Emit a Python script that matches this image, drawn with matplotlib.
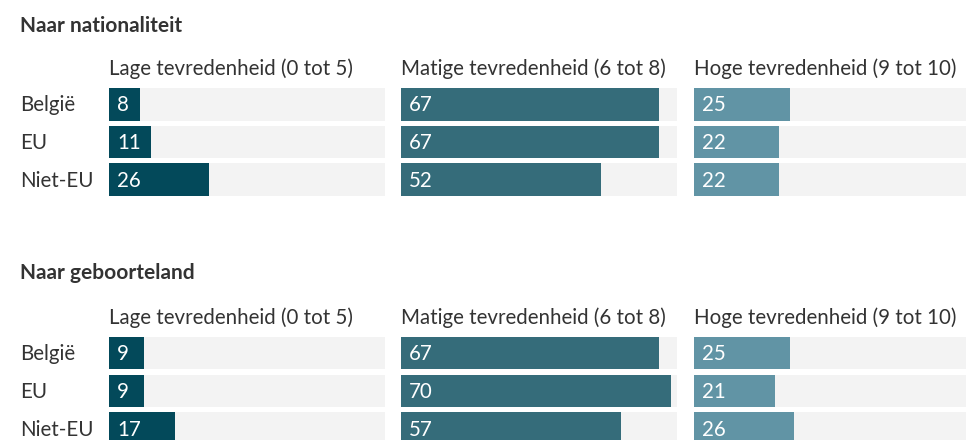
import matplotlib
matplotlib.use("Agg")
import matplotlib.pyplot as plt

plt.rcParams['font.family'] = ['Lato', 'DejaVu Sans']

# Data
groups = ["Naar nationaliteit", "Naar geboorteland"]
categories = ["België", "EU", "Niet-EU"]
levels = ["Lage tevredenheid (0 tot 5)",
          "Matige tevredenheid (6 tot 8)",
          "Hoge tevredenheid (9 tot 10)"]
nationaliteit_laag = [8, 11, 26]
nationaliteit_matig = [67, 67, 52]
nationaliteit_hoog = [25, 22, 22]
geboorteland_laag = [9, 9, 17]
geboorteland_matig = [67, 70, 57]
geboorteland_hoog = [25, 21, 26]

values = [
    [nationaliteit_laag, nationaliteit_matig, nationaliteit_hoog],
    [geboorteland_laag, geboorteland_matig, geboorteland_hoog],
]

# Styling
W, H = 966, 440
colors = ["#03495a", "#356c7a", "#6194a5"]
track_color = "#f3f3f3"
text_color = "#333333"
XMAX = 71.6
FS = 14.8          # pt
TITLE_FS = 15.0

col_left = [109, 401, 694]
col_width = 276
group_top = [88, 337]
pitch = 37.7
bar_px = 32.5
block_px = 2 * pitch + bar_px
bar_h = bar_px / pitch

fig = plt.figure(figsize=(W / 100, H / 100), dpi=100)
fig.patch.set_facecolor("white")

def px_box(left, top, width, height):
    return [left / W, 1 - (top + height) / H, width / W, height / H]

title_y = [26, 273]
header_offset = 19

for g, gname in enumerate(groups):
    fig.text(20 / W, 1 - title_y[g] / H, gname, fontsize=TITLE_FS,
             fontweight="bold", color=text_color, va="center", ha="left")
    for c in range(3):
        ax = fig.add_axes(px_box(col_left[c], group_top[g], col_width, block_px))
        ypos = list(range(len(categories)))
        ax.barh(ypos, [XMAX] * len(categories), height=bar_h,
                color=track_color, linewidth=0)
        vals = values[g][c]
        ax.barh(ypos, vals, height=bar_h, color=colors[c], linewidth=0)
        ax.set_xlim(0, XMAX)
        ax.set_ylim(len(categories) - 1 + bar_h / 2, -bar_h / 2)
        ax.axis("off")
        for i, v in enumerate(vals):
            ax.annotate(str(v), xy=(0, i), xytext=(8, -1),
                        textcoords="offset pixels", color="white",
                        fontsize=FS, va="center", ha="left")
        ax.annotate(levels[c], xy=(0, 1), xycoords="axes fraction",
                    xytext=(0, header_offset), textcoords="offset pixels",
                    fontsize=FS, color=text_color, va="center", ha="left",
                    annotation_clip=False)
        if c == 0:
            for i, cat in enumerate(categories):
                ax.annotate(cat, xy=(20, i),
                            xycoords=("figure pixels", "data"),
                            xytext=(0, -1), textcoords="offset pixels",
                            fontsize=FS, color=text_color,
                            va="center", ha="left", annotation_clip=False)

fig.savefig("out.png", dpi=100, facecolor="white")
